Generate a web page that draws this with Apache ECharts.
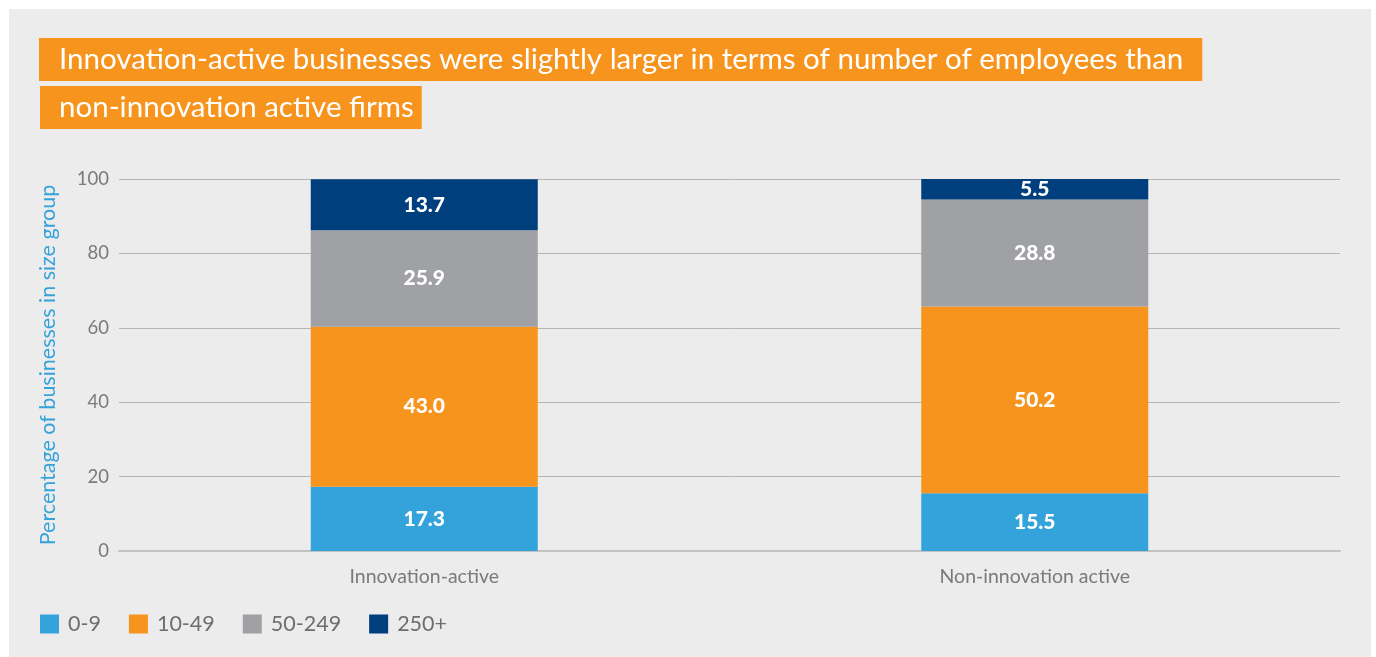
<!DOCTYPE html>
<html>
<head>
<meta charset="utf-8">
<script src="https://cdn.jsdelivr.net/npm/echarts@6/dist/echarts.min.js"></script>
<style>
  html, body { margin: 0; padding: 0; background: #ffffff; }
  #chart { position: absolute; left: 9px; top: 9px; width: 1362px; height: 648px; }
</style>
</head>
<body>
<div id="chart"></div>
<script>
// Share of businesses by employee size band, innovation-active vs not
const categories = ['Innovation-active', 'Non-innovation active'];
const sizeGroups = ['0-9', '10-49', '50-249', '250+'];
const size0to9 = [17.3, 15.5];
const size10to49 = [43.0, 50.2];
const size50to249 = [25.9, 28.8];
const size250plus = [13.7, 5.5];
const yTicks = [0, 20, 40, 60, 80, 100];

const titleLines = [
  'Innovation-active businesses were slightly larger in terms of number of employees than',
  'non-innovation active firms'
];

const colors = ['#35a3db', '#f7941d', '#a0a1a5', '#003f7d'];
const FONT = 'Lato, "Open Sans", sans-serif';

const seriesValues = [size0to9, size10to49, size50to249, size250plus];

const chart = echarts.init(document.getElementById('chart'), null, { renderer: 'canvas' });

const titleStyle = {
  color: '#ffffff',
  fontFamily: FONT,
  fontSize: 29.5,
  fontWeight: 'normal',
  lineHeight: 31
};

chart.setOption({
  backgroundColor: '#ececec',
  animation: false,
  title: [
    {
      text: titleLines[0],
      left: 30, top: 29,
      backgroundColor: '#f7941d',
      padding: [6, 19, 6, 20],
      textStyle: titleStyle
    },
    {
      text: titleLines[1],
      left: 31, top: 77,
      backgroundColor: '#f7941d',
      padding: [6, 8, 6, 19],
      textStyle: titleStyle
    }
  ],
  legend: {
    data: sizeGroups,
    left: 31,
    top: 604,
    padding: 0,
    itemWidth: 19,
    itemHeight: 19,
    itemGap: 28,
    icon: 'rect',
    textStyle: { color: '#6d6e71', fontFamily: FONT, fontSize: 21.5, padding: [0, 0, 0, 4] }
  },
  grid: { left: 110, right: 31, top: 170, bottom: 106, containLabel: false },
  xAxis: {
    type: 'category',
    data: categories,
    axisLine: { show: true, lineStyle: { color: '#c2c2c2', width: 2 } },
    axisTick: { show: false },
    axisLabel: { color: '#7a7a7a', fontFamily: FONT, fontSize: 19.5, margin: 16 }
  },
  yAxis: {
    type: 'value',
    min: yTicks[0],
    max: yTicks[yTicks.length - 1],
    interval: yTicks[1] - yTicks[0],
    name: 'Percentage of businesses in size group',
    nameLocation: 'middle',
    nameGap: 60,
    nameTextStyle: { color: '#35a3db', fontFamily: FONT, fontSize: 21.5 },
    axisLine: { show: false },
    axisTick: { show: false },
    axisLabel: { color: '#7a7a7a', fontFamily: FONT, fontSize: 18.5, margin: 10 },
    splitLine: { lineStyle: { color: '#b5b5b5', width: 1 } }
  },
  series: sizeGroups.map((name, i) => ({
    name: name,
    type: 'bar',
    stack: 'total',
    barWidth: 227,
    data: seriesValues[i],
    itemStyle: { color: colors[i] },
    label: {
      show: true,
      position: 'inside',
      color: '#ffffff',
      fontFamily: FONT,
      fontSize: 21,
      fontWeight: 900,
      formatter: p => p.value.toFixed(1)
    }
  }))
});
</script>
</body>
</html>
